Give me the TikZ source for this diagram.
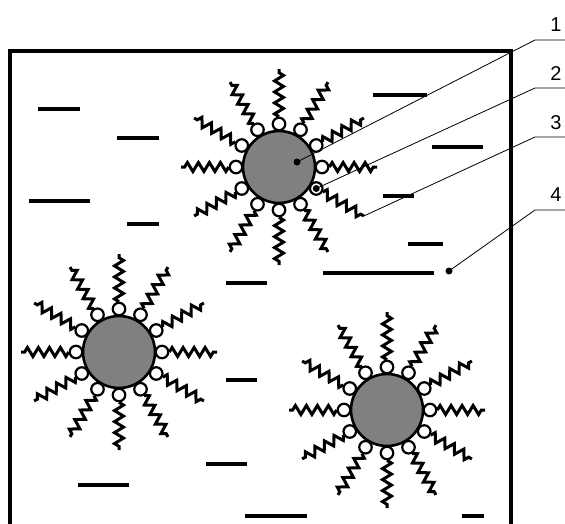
\documentclass[tikz,border=0pt]{standalone}
\usepackage{fontspec}
\setmainfont{Liberation Sans}
\usetikzlibrary{positioning, calc, decorations.pathmorphing}
\definecolor{coregray}{RGB}{128,128,128}

\tikzset{
  core/.style={circle, draw, line width=2.6pt, fill=coregray, minimum size=72pt, inner sep=0pt},
  head/.style={circle, draw, line width=2.2pt, fill=white, minimum size=12.5pt, inner sep=0pt},
  tail/.style={line width=3pt, decorate, decoration={zigzag, segment length=11pt, amplitude=4.5pt}},
  solvent/.style={line width=3.2pt},
  leader/.style={line width=0.8pt},
  tip/.style={circle, fill, inner sep=0pt, minimum size=7pt},
  numlabel/.style={font=\fontsize{20}{24}\selectfont, anchor=base, inner sep=0pt}
}

% one particle: core, twelve heads, twelve tails
\newcommand{\particle}[2]{%
  \node[core] (#1) at #2 {};
  \foreach \a in {0,30,...,330} {
    \coordinate (#1-t\a) at ($(#1)+(\a:98)$);
    \node[head] (#1-h\a) at ($(#1)+(\a:43)$) {};
    \draw[tail] (#1-h\a) -- (#1-t\a);
  }
}

\begin{document}
\begin{tikzpicture}[x=1pt, y=-1pt]
  \clip (0,0) rectangle (565,523);

  % vessel
  \draw[line width=3.6pt] (10,560) -- (10,51) -- (511,51) -- (511,560);

  % solvent molecules
  \foreach \xa/\xb/\y in {38/80/109, 117/159/138, 373/427/95, 432/483/147,
                          29/90/201, 127/159/224, 383/414/196, 408/443/244,
                          323/434/273, 226/267/283, 226/257/380, 206/247/464,
                          78/129/485, 245/307/516, 462/484/516}
    \draw[solvent] (\xa,\y) -- (\xb,\y);

  \particle{p1}{(279,167)}
  \particle{p2}{(119,352)}
  \particle{p3}{(387,410)}

  % markers for the callouts
  \node[tip] (dot1) at ($(p1)+(18,-5)$) {};
  \node[tip] (dot2) at (p1-h30) {};
  \node[tip] (dot4) at (449,271) {};

  % callouts
  \node[numlabel] (l1) at (556,31) {1};
  \node[numlabel] (l2) at (556,80) {2};
  \node[numlabel] (l3) at (556,129) {3};
  \node[numlabel] (l4) at (556,201) {4};

  \draw[leader] (dot1.center) -- (535,40) -- (565,40);
  \draw[leader] (dot2.center) -- (535,88) -- (565,88);
  \draw[leader] (p1-t30) -- (535,137) -- (565,137);
  \draw[leader] (dot4.center) -- (535,210) -- (565,210);
\end{tikzpicture}
\end{document}
